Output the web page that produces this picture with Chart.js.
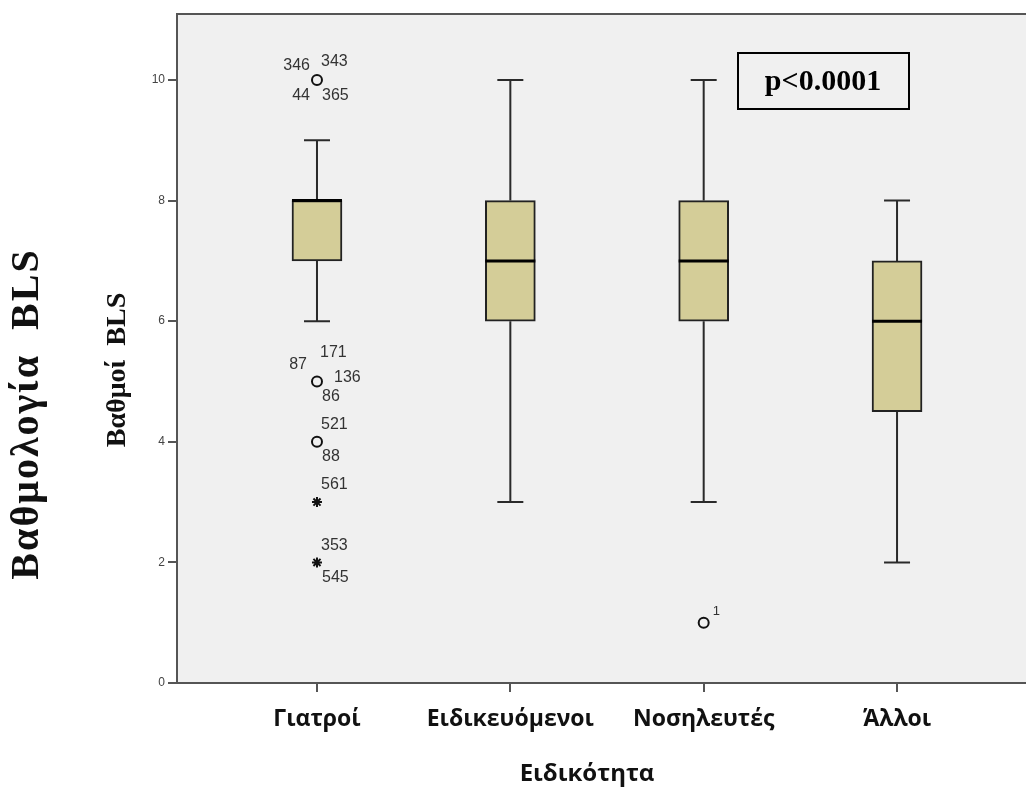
<!DOCTYPE html>
<html>
<head>
<meta charset="utf-8">
<script src="https://cdn.jsdelivr.net/npm/chart.js@4.4.1/dist/chart.umd.min.js"></script>
<style>
    html, body { margin: 0; padding: 0; background: #ffffff; overflow: hidden; }
    canvas { display: block; }
</style>
</head>
<body>
<canvas id="boxChart" width="1026" height="790"></canvas>
<script>

/*
    BLS score by speciality - SPSS style box plot
    drawn with floating bars + a small plugin.
*/

Chart.defaults.font.family = "'Liberation Sans', Arial, sans-serif";
Chart.defaults.color = '#444';


// Box plot values

var categories = ['Γιατροί', 'Ειδικευόμενοι', 'Νοσηλευτές', 'Άλλοι'];
var whisker_low = [6, 3, 3, 2];
var q1 = [7, 6, 6, 4.5];
var medians = [8, 7, 7, 6];
var q3 = [8, 8, 8, 7];
var whisker_high = [9, 10, 10, 8];

// outliers (o) and extremes (*), x = category number
var outlier_x = [1, 1, 1, 3];
var outlier_y = [10, 5, 4, 1];
var extreme_x = [1, 1];
var extreme_y = [3, 2];

// case numbers printed next to the marks
var case_x = [1, 1, 1, 1, 1, 3];
var case_y = [10, 5, 4, 3, 2, 1];
var case_ids = [
    ['346', '343', '44', '365'],
    ['171', '87', '136', '86'],
    ['521', '88'],
    ['561'],
    ['353', '545'],
    ['1']];
var case_side = [
    ['nw', 'ne', 'sw', 'se'],
    ['nn', 'w', 'e', 's'],
    ['n', 's'],
    ['n'],
    ['n', 's'],
    ['sup']];

var y_ticks = [0, 2, 4, 6, 8, 10];
var p_text = 'p<0.0001';
var x_title = 'Ειδικότητα';
var y_title = 'Βαθμοί  BLS';
var outer_title = 'Βαθμολογία  BLS';


// label placement relative to the mark: dx, dy, align
var side_offsets = {
    nw: [-7, -14, 'right'],
    ne: [4, -18, 'left'],
    sw: [-7, 16, 'right'],
    se: [5, 16, 'left'],
    nn: [3, -29, 'left'],
    w: [-10, -17, 'right'],
    e: [17, -4, 'left'],
    s: [5, 15, 'left'],
    n: [4, -17, 'left'],
    sup: [9, -11, 'left'],
};


var box_data = [];
var outlier_data = [];
var extreme_data = [];

for (var i = 0; i < categories.length; i++) {
    box_data.push({x: i + 1, y: [q1[i], q3[i]]});}
for (var i = 0; i < outlier_x.length; i++) {
    outlier_data.push({x: outlier_x[i], y: outlier_y[i]});}
for (var i = 0; i < extreme_x.length; i++) {
    extreme_data.push({x: extreme_x[i], y: extreme_y[i]});}



// whiskers, medians, case labels, titles

var box_plugin = {
    id: 'box_plugin',

    beforeDraw: function(chart) {
        var a = chart.chartArea;
        var ctx = chart.ctx;
        ctx.save();
        ctx.fillStyle = '#f0f0f0';
        ctx.fillRect(a.left, a.top, a.right - a.left, a.bottom - a.top);
        ctx.restore();
    },

    beforeDatasetsDraw: function(chart) {
        var xs = chart.scales.x;
        var ys = chart.scales.y;
        var ctx = chart.ctx;
        ctx.save();
        ctx.strokeStyle = '#2a2a2a';
        ctx.lineWidth = 2;
        for (var i = 0; i < categories.length; i++) {
            var x = xs.getPixelForValue(i + 1);
            var lo = ys.getPixelForValue(whisker_low[i]);
            var hi = ys.getPixelForValue(whisker_high[i]);
            ctx.beginPath();
            ctx.moveTo(x, ys.getPixelForValue(q3[i]));
            ctx.lineTo(x, hi);
            ctx.moveTo(x, ys.getPixelForValue(q1[i]));
            ctx.lineTo(x, lo);
            ctx.moveTo(x - 13, hi);
            ctx.lineTo(x + 13, hi);
            ctx.moveTo(x - 13, lo);
            ctx.lineTo(x + 13, lo);
            ctx.stroke();
        }
        ctx.restore();
    },

    afterDatasetsDraw: function(chart) {
        var xs = chart.scales.x;
        var ys = chart.scales.y;
        var ctx = chart.ctx;
        ctx.save();

        // medians
        ctx.strokeStyle = '#000';
        ctx.lineWidth = 3;
        for (var i = 0; i < categories.length; i++) {
            var x = xs.getPixelForValue(i + 1);
            var m = ys.getPixelForValue(medians[i]);
            ctx.beginPath();
            ctx.moveTo(x - 25, m);
            ctx.lineTo(x + 25, m);
            ctx.stroke();
        }

        // case numbers
        ctx.fillStyle = '#333';
        ctx.textBaseline = 'middle';
        for (var c = 0; c < case_ids.length; c++) {
            var px = xs.getPixelForValue(case_x[c]);
            var py = ys.getPixelForValue(case_y[c]);
            for (var k = 0; k < case_ids[c].length; k++) {
                var off = side_offsets[case_side[c][k]];
                ctx.font = (case_side[c][k] == 'sup' ? '13px' : '16px') + " 'Liberation Sans', Arial, sans-serif";
                ctx.textAlign = off[2];
                ctx.fillText(case_ids[c][k], px + off[0], py + off[1]);
            }
        }

        // p-value box
        ctx.strokeStyle = '#000';
        ctx.lineWidth = 2;
        ctx.strokeRect(738, 53, 171, 56);
        ctx.fillStyle = '#000';
        ctx.font = "bold 30px 'Liberation Serif', 'Times New Roman', serif";
        ctx.textAlign = 'center';
        ctx.textBaseline = 'middle';
        ctx.fillText(p_text, 823, 82);

        ctx.restore();
    },

    afterDraw: function(chart) {
        var a = chart.chartArea;
        var ctx = chart.ctx;
        ctx.save();

        // top frame line
        ctx.strokeStyle = '#555';
        ctx.lineWidth = 2;
        ctx.beginPath();
        ctx.moveTo(a.left, a.top);
        ctx.lineTo(a.right, a.top);
        ctx.stroke();

        ctx.fillStyle = '#111';
        ctx.textAlign = 'center';
        ctx.textBaseline = 'middle';

        ctx.font = "bold 24px 'Open Sans', sans-serif";
        ctx.fillText(x_title, 587, 774);

        ctx.font = "bold 28px 'Liberation Serif', 'Times New Roman', serif";
        ctx.save();
        ctx.translate(118, 370);
        ctx.rotate(-Math.PI / 2);
        ctx.fillText(y_title, 0, 0);
        ctx.restore();

        ctx.font = "bold 40px 'Liberation Serif', 'Times New Roman', serif";
        ctx.letterSpacing = '2px';
        ctx.save();
        ctx.translate(28, 414);
        ctx.rotate(-Math.PI / 2);
        ctx.fillText(outer_title, 0, 0);
        ctx.restore();

        ctx.restore();
    },
};



var ctx = document.getElementById('boxChart').getContext('2d');

var chart_object = new Chart(ctx, {
    type: 'bar',

    data: {
        datasets: [
            {
                label: 'box',
                data: box_data,
                backgroundColor: '#d4cd98',
                borderColor: '#222',
                borderWidth: 2,
                borderSkipped: false,
                barThickness: 50,
                order: 2,},
            {
                type: 'scatter',
                label: 'outliers',
                data: outlier_data,
                pointStyle: 'circle',
                pointRadius: 5,
                borderColor: '#111',
                borderWidth: 2,
                backgroundColor: 'rgba(0,0,0,0)',
                order: 1,},
            {
                type: 'scatter',
                label: 'extremes',
                data: extreme_data,
                pointStyle: 'star',
                pointRadius: 5,
                borderColor: '#111',
                borderWidth: 2,
                backgroundColor: '#111',
                order: 1,},
        ],},

    options: {
        responsive: false,
        animation: false,
        layout: {autoPadding: false, padding: {top: 14, left: 0, right: 0, bottom: 0}},

        scales: {
            x: {
                type: 'linear',
                offset: false,
                min: 0.276,
                max: 4.667,
                afterBuildTicks: function(scale) {
                    scale.ticks = categories.map(function(c, i) { return {value: i + 1}; });},
                afterFit: function(scale) {
                    scale.height = 107;
                    scale.paddingLeft = 0;
                    scale.paddingRight = 0;},
                border: {display: true, color: '#555', width: 2},
                grid: {offset: false, drawOnChartArea: false, drawTicks: true, tickLength: 9, color: '#555', lineWidth: 2},
                ticks: {
                    padding: 14,
                    maxRotation: 0,
                    autoSkip: false,
                    color: '#111',
                    font: {family: "'Open Sans', sans-serif", size: 23, weight: 'bold'},
                    callback: function(value) { return categories[value - 1]; },},},
            y: {
                min: 0,
                max: 11.094,
                afterBuildTicks: function(scale) {
                    scale.ticks = y_ticks.map(function(v) { return {value: v}; });},
                afterFit: function(scale) { scale.width = 177; },
                border: {display: true, color: '#555', width: 2},
                grid: {drawOnChartArea: false, drawTicks: true, tickLength: 9, color: '#555', lineWidth: 2},
                ticks: {
                    padding: 3,
                    color: '#444',
                    font: {size: 12},},},
        },

        plugins: {
            legend: {display: false},
            tooltip: {enabled: false},
            title: {display: false},},
    },
    plugins: [box_plugin],
});

</script>
</body>
</html>
